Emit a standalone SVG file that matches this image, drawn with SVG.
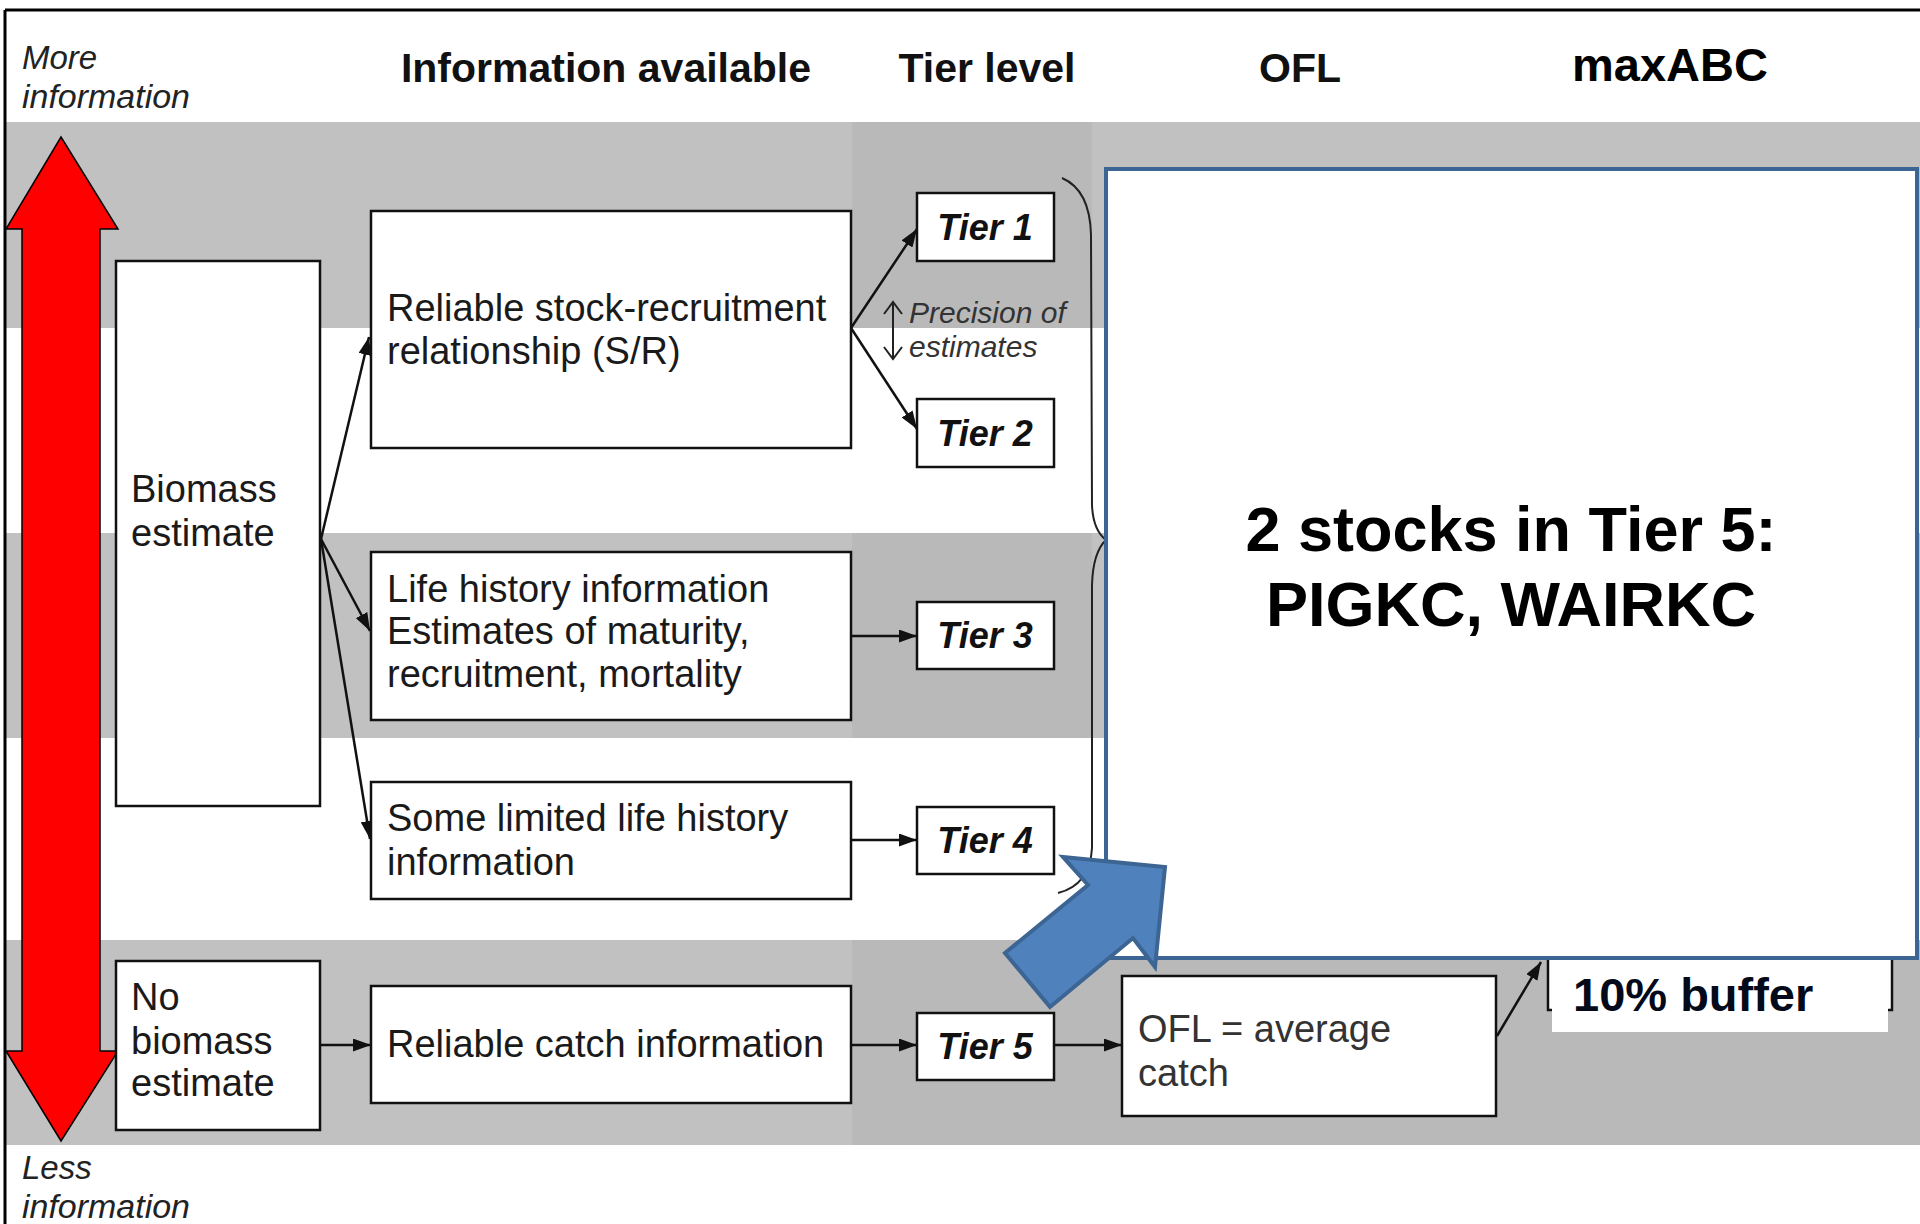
<svg xmlns="http://www.w3.org/2000/svg" width="1920" height="1224" viewBox="0 0 1920 1224">
<defs>
<style>
.band{fill:#c1c1c1}
.band2{fill:#b9b9b9}
.box{fill:#fff;stroke:#111;stroke-width:2.5}
.t{font-family:"Liberation Sans",Arial,sans-serif;font-size:38px;fill:#1a1a1a}
.hd{font-family:"Liberation Sans",Arial,sans-serif;font-size:41px;font-weight:bold;fill:#111}
.it{font-family:"Liberation Sans",Arial,sans-serif;font-size:33px;font-style:italic;fill:#222}
.tier{font-family:"Liberation Sans",Arial,sans-serif;font-size:36px;font-weight:bold;font-style:italic;fill:#111}
.big{font-family:"Liberation Sans",Arial,sans-serif;font-size:63px;font-weight:bold;fill:#000}
.buf{font-family:"Liberation Sans",Arial,sans-serif;font-size:47px;font-weight:bold;fill:#050a1a}
.con{stroke:#111;stroke-width:2.5;fill:none;marker-end:url(#ah)}
</style>
<marker id="ah" markerWidth="18" markerHeight="13" refX="18" refY="6.5" orient="auto" markerUnits="userSpaceOnUse"><path d="M0,0 L18,6.5 L0,13 z" fill="#111"/></marker>
</defs>
<rect x="0" y="0" width="1920" height="1224" fill="#fff"/>
<g id="bands">
<rect class="band" x="5" y="122" width="1915" height="206"/>
<rect class="band" x="5" y="533" width="1915" height="205"/>
<rect class="band" x="5" y="940" width="1915" height="205"/>
<rect class="band2" x="852" y="122" width="240" height="206"/>
<rect class="band2" x="852" y="533" width="240" height="205"/>
<rect class="band2" x="852" y="940" width="1068" height="205"/>
</g>
<g id="frame" stroke="#000" stroke-width="3">
<line x1="5" y1="10" x2="1920" y2="10"/>
<line x1="5" y1="10" x2="5" y2="1224"/>
</g>
<g id="header">
<text class="it" x="22" y="69">More</text>
<text class="it" x="22" y="108" textLength="168" lengthAdjust="spacingAndGlyphs">information</text>
<text class="hd" x="606" y="82" text-anchor="middle">Information available</text>
<text class="hd" x="987" y="82" text-anchor="middle">Tier level</text>
<text class="hd" x="1300" y="82" text-anchor="middle">OFL</text>
<text class="hd" x="1670" y="81" text-anchor="middle" style="font-size:47px;fill:#000">maxABC</text>
<text class="it" x="22" y="1179">Less</text>
<text class="it" x="22" y="1218" textLength="168" lengthAdjust="spacingAndGlyphs">information</text>
</g>
<g id="red-arrow">
<polygon points="61,137 118,229 100,229 100,1051 118,1051 61,1141 6,1051 22,1051 22,229 6,229" fill="#ff0000" stroke="#000" stroke-width="1.5"/>
</g>
<g id="brace" fill="none" stroke="#222" stroke-width="2">
<path d="M1062,178 Q1090,190 1091,235 L1092,505 Q1093,530 1106,540"/>
<path d="M1106,540 Q1093,552 1092,585 L1092,848 Q1090,885 1058,893"/>
</g>
<g id="connectors">
<line class="con" x1="321" y1="539" x2="369" y2="337"/>
<line class="con" x1="321" y1="539" x2="370" y2="631"/>
<line class="con" x1="321" y1="539" x2="370" y2="839"/>
<line class="con" x1="851" y1="328" x2="917" y2="229"/>
<line class="con" x1="851" y1="328" x2="917" y2="429"/>
<line class="con" x1="851" y1="636" x2="917" y2="636"/>
<line class="con" x1="851" y1="840" x2="917" y2="840"/>
<line class="con" x1="320" y1="1045" x2="371" y2="1045"/>
<line class="con" x1="851" y1="1045" x2="917" y2="1045"/>
<line class="con" x1="1054" y1="1045" x2="1122" y2="1045"/>
<line class="con" x1="1497" y1="1036" x2="1541" y2="962"/>
<path d="M893,302 L893,359 M884,314 L893,302 L902,314 M884,347 L893,359 L902,347" stroke="#222" stroke-width="2" fill="none"/>
</g>
<g id="precision">
<text class="it" x="909" y="323" style="font-size:30px;fill:#333">Precision of</text>
<text class="it" x="909" y="357" style="font-size:30px;fill:#333">estimates</text>
</g>
<g id="n-biomass"><rect class="box" x="116" y="261" width="204" height="545"/><text class="t" x="131" y="502">Biomass</text><text class="t" x="131" y="546">estimate</text></g>
<g id="n-sr"><rect class="box" x="371" y="211" width="480" height="237"/><text class="t" x="387" y="321">Reliable stock-recruitment</text><text class="t" x="387" y="364">relationship (S/R)</text></g>
<g id="n-life"><rect class="box" x="371" y="552" width="480" height="168"/><text class="t" x="387" y="602">Life history information</text><text class="t" x="387" y="644">Estimates of maturity,</text><text class="t" x="387" y="687">recruitment, mortality</text></g>
<g id="n-limited"><rect class="box" x="371" y="782" width="480" height="117"/><text class="t" x="387" y="831">Some limited life history</text><text class="t" x="387" y="875">information</text></g>
<g id="n-nobiomass"><rect class="box" x="116" y="961" width="204" height="169"/><text class="t" x="131" y="1010">No</text><text class="t" x="131" y="1054">biomass</text><text class="t" x="131" y="1096">estimate</text></g>
<g id="n-catch"><rect class="box" x="371" y="986" width="480" height="117"/><text class="t" x="387" y="1057">Reliable catch information</text></g>
<g id="n-tier1"><rect class="box" x="917" y="193" width="137" height="68"/><text class="tier" x="985" y="240" text-anchor="middle">Tier 1</text></g>
<g id="n-tier2"><rect class="box" x="917" y="399" width="137" height="68"/><text class="tier" x="985" y="446" text-anchor="middle">Tier 2</text></g>
<g id="n-tier3"><rect class="box" x="917" y="602" width="137" height="67"/><text class="tier" x="985" y="648" text-anchor="middle">Tier 3</text></g>
<g id="n-tier4"><rect class="box" x="917" y="807" width="137" height="67"/><text class="tier" x="985" y="853" text-anchor="middle">Tier 4</text></g>
<g id="n-tier5"><rect class="box" x="917" y="1013" width="137" height="67"/><text class="tier" x="985" y="1059" text-anchor="middle">Tier 5</text></g>
<g id="n-ofl"><rect class="box" x="1122" y="976" width="374" height="140"/><text class="t" x="1138" y="1042" style="fill:#333">OFL = average</text><text class="t" x="1138" y="1086" style="fill:#333">catch</text></g>
<g id="n-buffer"><rect class="box" x="1548" y="940" width="344" height="70"/><rect x="1552" y="955" width="336" height="77" fill="#fff"/><text class="buf" x="1573" y="1011">10% buffer</text></g>
<g id="n-callout"><rect x="1106" y="169" width="811" height="789" fill="#fff" stroke="#3d6593" stroke-width="4"/><text class="big" x="1511" y="551" text-anchor="middle">2 stocks in Tier 5:</text><text class="big" x="1511" y="626" text-anchor="middle">PIGKC, WAIRKC</text></g>
<g id="blue-arrow"><polygon points="1063,857 1165,867 1155,967 1133,938 1050,1007 1005,953 1088,885" fill="#4f81bd" stroke="#3d6593" stroke-width="4" stroke-linejoin="miter"/></g>
</svg>
